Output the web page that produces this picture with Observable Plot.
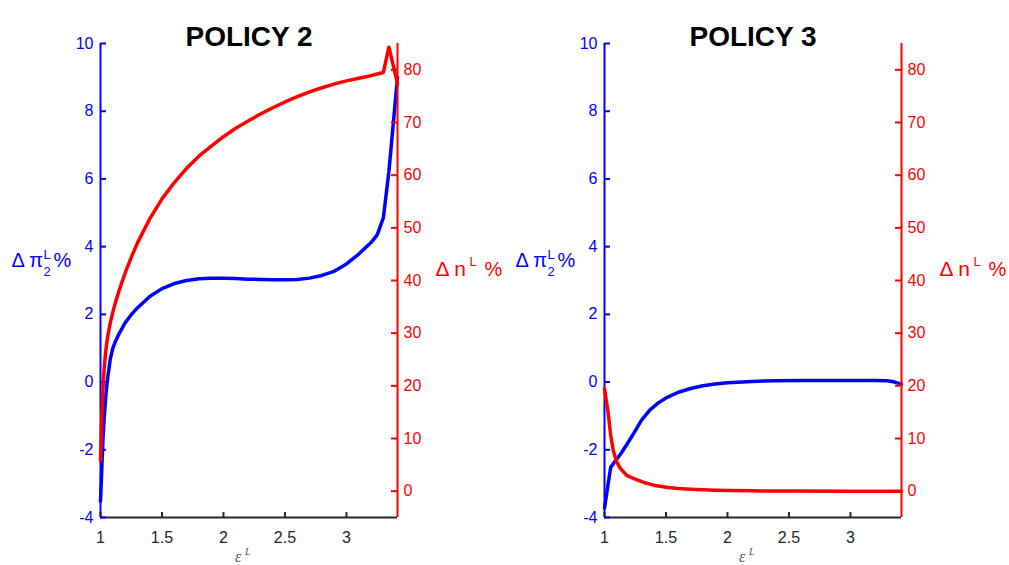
<!DOCTYPE html>
<html>
<head>
<meta charset="utf-8">
<script src="https://cdn.jsdelivr.net/npm/d3@7"></script>
<script src="https://cdn.jsdelivr.net/npm/@observablehq/plot@0.6"></script>
<style>
  body { margin: 0; background: #fff; }
  #wrap { position: relative; width: 1009px; height: 565px; overflow: hidden; background: #fff; }
  .layer { position: absolute; top: 0; width: 505px; height: 565px; }
  .layer svg { display: block; max-width: none; }
</style>
</head>
<body>
<div id="wrap"></div>
<script>
// ---- axes / ticks ----
const xDomain = [1, 3.415];
const xTicks = [1, 1.5, 2, 2.5, 3];
const blueDomain = [-4, 10];
const blueTicks = [-4, -2, 0, 2, 4, 6, 8, 10];
const redDomain = [-5, 85];
const redTicks = [0, 10, 20, 30, 40, 50, 60, 70, 80];
const titles = ["POLICY 2", "POLICY 3"];

// ---- POLICY 2 ----
const p2Eps = [1.0, 1.01, 1.02, 1.03, 1.04, 1.05, 1.06, 1.08, 1.1, 1.125, 1.15, 1.2, 1.25, 1.3, 1.4, 1.5, 1.6, 1.7, 1.8, 1.9, 2.0, 2.1, 2.2, 2.3, 2.4, 2.5, 2.6, 2.7, 2.8, 2.9, 3.0, 3.1, 3.2, 3.25, 3.3, 3.345, 3.415];
const p2Pi = [-3.52, -2.6, -1.68, -1.05, -0.55, -0.15, 0.16, 0.69, 1.0, 1.23, 1.42, 1.75, 1.99, 2.19, 2.53, 2.76, 2.91, 3.0, 3.05, 3.07, 3.07, 3.06, 3.04, 3.03, 3.02, 3.02, 3.03, 3.07, 3.15, 3.27, 3.49, 3.78, 4.12, 4.35, 4.85, 6.22, 9.0];
const p2N = [5.9, 13.5, 19.5, 23.3, 26.0, 28.0, 29.6, 32.0, 34.0, 36.1, 38.0, 41.4, 44.4, 47.1, 51.7, 55.5, 58.6, 61.3, 63.6, 65.5, 67.3, 68.9, 70.3, 71.6, 72.8, 73.9, 74.9, 75.8, 76.6, 77.3, 77.9, 78.4, 78.9, 79.2, 79.5, 84.3, 77.4];

// ---- POLICY 3 ----
const p3PiEps = [1.0, 1.05, 1.08, 1.13, 1.18, 1.24, 1.3, 1.37, 1.44, 1.51, 1.6, 1.7, 1.8, 1.9, 2.0, 2.2, 2.4, 2.6, 2.8, 3.0, 3.2, 3.3, 3.35, 3.415];
const p3Pi = [-3.72, -2.52, -2.37, -2.13, -1.85, -1.5, -1.13, -0.82, -0.61, -0.45, -0.3, -0.19, -0.11, -0.06, -0.02, 0.02, 0.04, 0.05, 0.05, 0.05, 0.05, 0.04, 0.01, -0.06];
const p3NEps = [1.0, 1.01, 1.027, 1.049, 1.07, 1.1, 1.13, 1.18, 1.24, 1.32, 1.4, 1.5, 1.6, 1.7, 1.8, 1.9, 2.0, 2.2, 2.5, 3.0, 3.415];
const p3N = [19.5, 17.9, 15.4, 10.9, 7.8, 5.5, 4.3, 3.0, 2.4, 1.65, 1.14, 0.75, 0.5, 0.35, 0.25, 0.18, 0.12, 0.06, 0.02, 0.0, 0.0];

const BLUE = "#0000ff", RED = "#ff0000", DARK = "#262626";
const FONT = "'Liberation Sans', Arial, Helvetica, sans-serif";
const SERIF = "'Liberation Serif', 'DejaVu Serif', serif";
const W = 505, H = 565;
const dims = { width: W, height: H, marginLeft: 100, marginRight: 108, marginTop: 43, marginBottom: 48 };
const FRAME_W = W - dims.marginLeft - dims.marginRight;
const FRAME_H = H - dims.marginTop - dims.marginBottom;
const TICK = 6, XTICK = 5;
const LW = 3.5;

const zip = (xs, ys) => xs.map((x, i) => ({ x, y: ys[i] }));

function bluePlot(title, eps, vals) {
  return Plot.plot({
    ...dims,
    style: { background: "transparent", fontFamily: FONT, overflow: "visible" },
    x: { domain: xDomain },
    y: { domain: blueDomain },
    marks: [
      Plot.line(zip(eps, vals), { x: "x", y: "y", stroke: BLUE, strokeWidth: LW }),
      Plot.ruleX([xDomain[0]], { stroke: BLUE, strokeWidth: 2 }),
      Plot.ruleY([blueDomain[0]], { stroke: DARK, strokeWidth: 2 }),
      // inward ticks
      Plot.tickX(xTicks, { x: d => d, stroke: DARK, strokeWidth: 2, insetTop: FRAME_H - XTICK }),
      Plot.tickY(blueTicks, { y: d => d, stroke: BLUE, strokeWidth: 2, insetRight: FRAME_W - TICK }),
      // tick labels
      Plot.axisX(xTicks, { tickSize: 0, tickPadding: 14, fontSize: 16, fill: DARK, tickFormat: String, label: null }),
      Plot.axisY(blueTicks, { anchor: "left", tickSize: 0, tickPadding: 7, fontSize: 16, fill: BLUE, tickFormat: String, label: null }),
      Plot.text([title], { text: d => d, frameAnchor: "top", dy: -17, fontSize: 28, fontWeight: "bold", fill: "#000" }),
      // y label: Δ π_2^L %
      Plot.text(["Δ π"], { text: d => d, frameAnchor: "left", textAnchor: "start", dx: -89, dy: -20, fontSize: 20, fill: BLUE }),
      Plot.text(["L"], { text: d => d, frameAnchor: "left", textAnchor: "start", dx: -57, dy: -26, fontSize: 13, fill: BLUE }),
      Plot.text(["2"], { text: d => d, frameAnchor: "left", textAnchor: "start", dx: -57, dy: -9, fontSize: 13, fill: BLUE }),
      Plot.text(["%"], { text: d => d, frameAnchor: "left", textAnchor: "start", dx: -47, dy: -20, fontSize: 20, fill: BLUE }),
      // x label: ε^L
      Plot.text(["ε"], { text: d => d, frameAnchor: "bottom", textAnchor: "start", dx: -14, dy: 44, fontSize: 16, fontStyle: "italic", fontFamily: SERIF, fill: "#555" }),
      Plot.text(["L"], { text: d => d, frameAnchor: "bottom", textAnchor: "start", dx: -4, dy: 37, fontSize: 10, fontStyle: "italic", fontFamily: SERIF, fill: "#555" })
    ]
  });
}

function redPlot(eps, vals) {
  return Plot.plot({
    ...dims,
    style: { background: "transparent", fontFamily: FONT, overflow: "visible" },
    x: { domain: xDomain, axis: null },
    y: { domain: redDomain },
    marks: [
      Plot.line(zip(eps, vals), { x: "x", y: "y", stroke: RED, strokeWidth: LW }),
      Plot.ruleX([xDomain[1]], { stroke: RED, strokeWidth: 2 }),
      Plot.tickY(redTicks, { y: d => d, stroke: RED, strokeWidth: 2, insetLeft: FRAME_W - TICK }),
      Plot.axisY(redTicks, { anchor: "right", tickSize: 0, tickPadding: 6, fontSize: 16, fill: RED, tickFormat: String, label: null }),
      // y label: Δ n^L %
      Plot.text(["Δ n"], { text: d => d, frameAnchor: "right", textAnchor: "start", dx: 38, dy: -11, fontSize: 21, fill: RED }),
      Plot.text(["L"], { text: d => d, frameAnchor: "right", textAnchor: "start", dx: 72, dy: -19, fontSize: 13, fill: RED }),
      Plot.text(["%"], { text: d => d, frameAnchor: "right", textAnchor: "start", dx: 87, dy: -11, fontSize: 20, fill: RED })
    ]
  });
}

const wrap = document.getElementById("wrap");
function addLayer(node, left) {
  const div = document.createElement("div");
  div.className = "layer";
  div.style.left = left + "px";
  div.appendChild(node);
  wrap.appendChild(div);
}

addLayer(bluePlot(titles[0], p2Eps, p2Pi), 0);
addLayer(redPlot(p2Eps, p2N), 0);
addLayer(bluePlot(titles[1], p3PiEps, p3Pi), 504);
addLayer(redPlot(p3NEps, p3N), 504);
</script>
</body>
</html>
